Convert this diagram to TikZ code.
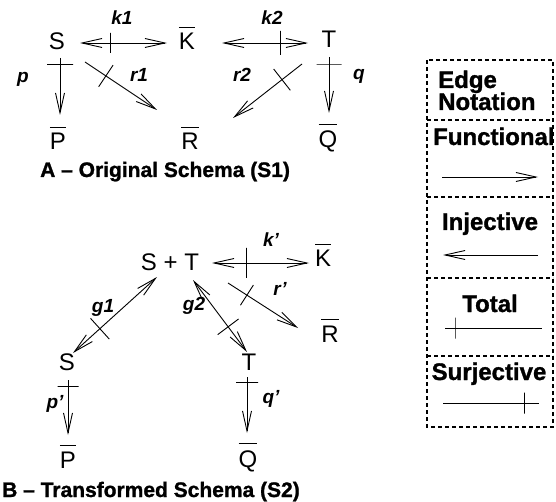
\documentclass[tikz,border=0pt]{standalone}
\usepackage{fontspec}
\setmainfont{Liberation Sans}[BoldFeatures={FakeBold=1.2}]
\usetikzlibrary{arrows.meta}

% letter with a bar over it
\newcommand\barred[1]{\vbox{\hrule height 0.9pt\kern 6pt\hbox{#1}}}

\tikzset{
  ent/.style={inner sep=0pt, anchor=base, font=\fontsize{24}{28}\selectfont},
  lbl/.style={inner sep=0pt, anchor=base, font=\bfseries\itshape\fontsize{19}{22}\selectfont},
  ttl/.style={inner sep=0pt, anchor=base west, font=\bfseries\fontsize{21}{25}\selectfont},
  legtxt/.style={inner sep=0pt, font=\bfseries\fontsize{24}{28}\selectfont},
  link/.style={line width=0.9pt},
  barb/.tip={Straight Barb[length=20pt,width=9pt]},
  fn/.style={link, -barb},
  bi/.style={link, barb-barb},
  crossbar/.style={draw, line width=0.9pt, sloped, inner sep=0pt, outer sep=0pt,
                   minimum width=0pt, minimum height=#1},
  legline/.style={line width=2.4pt, dash pattern=on 4pt off 3pt},
}

\begin{document}
\begin{tikzpicture}[x=1pt,y=-1pt]
\useasboundingbox (0,0) rectangle (556,502);

% ---------- A: original schema ----------
\node[ent] (S1) at (57,50)  {S};
\node[ent] (K1) at (187,50) {\barred{K}};
\node[ent] (T1) at (329,48) {T};
\node[ent] (P1) at (58,150) {\barred{P}};
\node[ent] (R1) at (190,150) {\barred{R}};
\node[ent] (Q1) at (328,148) {\barred{Q}};

\draw[bi] ([shift={(23,-7)}]S1.base) -- ([shift={(-20,-7)}]K1.base)
  node[crossbar=20pt,pos=.345]{};
\draw[bi] ([shift={(35,-7)}]K1.base) -- ([shift={(-21,-5)}]T1.base)
  node[crossbar=24pt,pos=.674]{};
\draw[fn] ([shift={(3,8)}]S1.base) -- ([shift={(2,-35)}]P1.base)
  node[crossbar=26pt,pos=.12]{};
\draw[fn] ([shift={(28,12)}]S1.base) -- ([shift={(-33,-40)}]R1.base)
  node[crossbar=26pt,pos=.29]{};
\draw[fn] ([shift={(-27,16)}]T1.base) -- ([shift={(43,-32)}]R1.base)
  node[crossbar=27pt,pos=.29]{};
\draw[fn] ([shift={(0,9)}]T1.base) -- ([shift={(1,-35)}]Q1.base)
  node[crossbar=25pt,pos=.125]{};

\node[lbl] (lk1) at (122,25) {k1};
\node[lbl] (lk2) at (272,25) {k2};
\node[lbl] (lp)  at (23,83)  {p};
\node[lbl] (lr1) at (139,82) {r1};
\node[lbl] (lr2) at (242,82) {r2};
\node[lbl] (lq)  at (359,80) {q};

\node[ttl] (tA) at (40,177) {A -- Original Schema (S1)};

% ---------- B: transformed schema ----------
\node[ent] (ST) at (170,270) {S + T};
\node[ent] (K2) at (323,267) {\barred{K}};
\node[ent] (R2) at (330,342) {\barred{R}};
\node[ent] (S2) at (67,370)  {S};
\node[ent] (T2) at (249,370) {T};
\node[ent] (P2) at (68,468)  {\barred{P}};
\node[ent] (Q2) at (248,467) {\barred{Q}};

\draw[bi] ([shift={(42,-7)}]ST.base) -- ([shift={(-14,-4)}]K2.base)
  node[crossbar=30pt,pos=.35]{};
\draw[fn] ([shift={(58,13)}]ST.base) -- ([shift={(-32,-14)}]R2.base)
  node[crossbar=24pt,pos=.27]{};
\draw[bi] ([shift={(6,-17)}]S2.base) -- ([shift={(-13,7)}]ST.base)
  node[crossbar=28pt,pos=.32]{};
\draw[bi] ([shift={(23,10)}]ST.base) -- ([shift={(-2,-18)}]T2.base)
  node[crossbar=26pt,pos=.65]{};
\draw[fn] ([shift={(1,10)}]S2.base) -- ([shift={(0,-33)}]P2.base)
  node[crossbar=21pt,pos=.11]{};
\draw[fn] ([shift={(-2,7)}]T2.base) -- ([shift={(-1,-34)}]Q2.base)
  node[crossbar=22pt,pos=.09]{};

\node[lbl] (lk3) at (271,247) {k'};
\node[lbl] (lr3) at (280,295) {r'};
\node[lbl] (lg1) at (103,312) {g1};
\node[lbl] (lg2) at (194,310) {g2};
\node[lbl] (lp2) at (55,408)  {p'};
\node[lbl] (lq2) at (271,403) {q'};

\node[ttl] (tB) at (2,497) {B -- Transformed Schema (S2)};

% ---------- edge notation legend ----------
\draw[legline] (427,60) rectangle (553,427);
\foreach \yy in {120,197,278,356} \draw[legline] (427,\yy) -- (553,\yy);

\node[legtxt,anchor=base west] (le1) at (438,88)  {Edge};
\node[legtxt,anchor=base west] (le2) at (438,110) {Notation};
\node[legtxt,anchor=base west] (le3) at (433,145) {Functional};
\node[legtxt,anchor=base] (le4) at (490,230) {Injective};
\node[legtxt,anchor=base] (le5) at (490,312) {Total};
\node[legtxt,anchor=base] (le6) at (489,380) {Surjective};

\coordinate (fa) at (442,177); \coordinate (fb) at (538,177);
\draw[fn] (fa) -- (fb);
\coordinate (ia) at (538,255); \coordinate (ib) at (443,255);
\draw[fn] (ia) -- (ib);
\coordinate (ta) at (445,328); \coordinate (tb) at (542,328);
\draw[link] (ta) -- (tb) node[crossbar=21pt,pos=.103]{};
\coordinate (sa) at (443,403); \coordinate (sb) at (539,403);
\draw[link] (sa) -- (sb) node[crossbar=21pt,pos=.844]{};
\end{tikzpicture}
\end{document}
